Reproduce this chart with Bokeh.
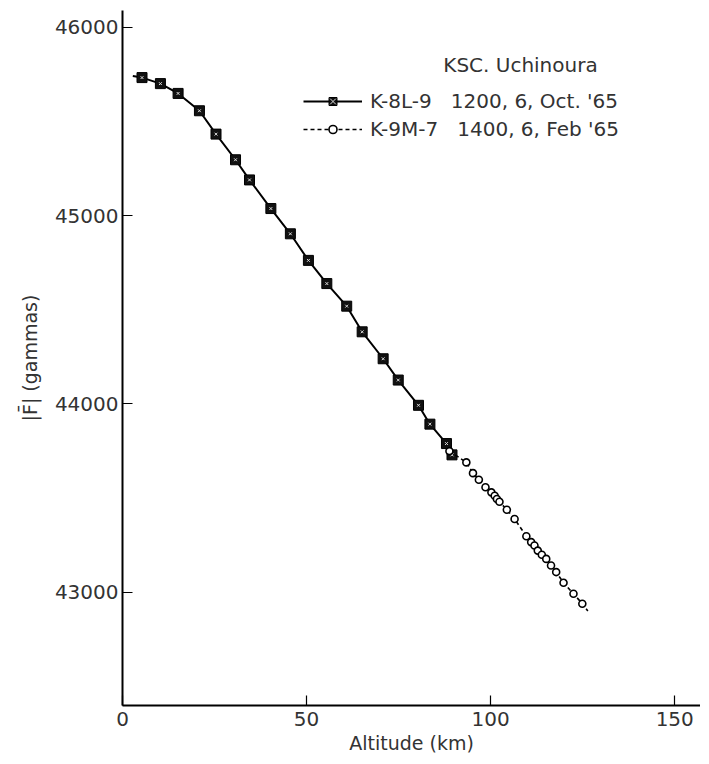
from bokeh.plotting import figure
from bokeh.models import (Range1d, FixedTicker, Legend, LegendItem, Label,
                          ColumnDataSource)
from bokeh.embed import file_html
from bokeh.resources import INLINE

# ---- data ----
alt_k8 = [2.8, 5.3, 10.3, 15.1, 20.9, 25.4, 30.7, 34.5, 40.3, 45.6, 50.5, 55.5,
          60.9, 65.1, 70.8, 74.9, 80.4, 83.5, 88.0, 89.5]
F_k8 = [45740, 45732, 45700, 45648, 45556, 45432, 45296, 45189, 45037, 44903,
        44762, 44639, 44519, 44383, 44240, 44127, 43993, 43893, 43790, 43730]

alt_k9 = [88.8, 93.4, 95.2, 96.8, 98.6, 100.2, 101.1, 101.7, 102.4, 104.4,
          106.5, 109.7, 111.0, 111.9, 112.8, 113.9, 115.1, 116.4, 117.8,
          119.8, 122.5, 124.9, 126.4]
F_k9 = [43750, 43690, 43633, 43598, 43558, 43531, 43513, 43496, 43481, 43439,
        43390, 43298, 43267, 43249, 43222, 43200, 43178, 43143, 43108, 43051,
        42993, 42940, 42902]
k9_marker = [True] * 22 + [False]

x_ticks = [0, 50, 100, 150]
y_ticks = [43000, 44000, 45000, 46000]

label_k8 = "K-8L-9   1200, 6, Oct. '65"
label_k9 = "K-9M-7   1400, 6, Feb '65"
legend_title = "KSC. Uchinoura"
x_title = "Altitude (km)"
y_title = "|F\u0304| (gammas)"

FONT = "DejaVu Sans"

p = figure(width=700, height=756, output_backend="svg", toolbar_location=None,
           x_range=Range1d(0, 157), y_range=Range1d(42400, 46088),
           min_border_left=122, min_border_right=0, min_border_top=10,
           min_border_bottom=49)
p.outline_line_color = None
p.xgrid.visible = False
p.ygrid.visible = False
p.background_fill_color = "white"

for ax, ticks in ((p.xaxis[0], x_ticks), (p.yaxis[0], y_ticks)):
    ax.ticker = FixedTicker(ticks=ticks)
    ax.minor_tick_line_color = None
    ax.major_tick_in = 10
    ax.major_tick_out = 0
    ax.axis_line_width = 2
    ax.major_tick_line_width = 1.2
    ax.axis_line_color = "black"
    ax.major_label_text_font = FONT
    ax.major_label_text_font_size = "20px"
    ax.major_label_text_color = "#333333"
    ax.axis_label_text_font = FONT
    ax.axis_label_text_font_size = "19px"
    ax.axis_label_text_font_style = "normal"
    ax.axis_label_text_color = "#333333"

p.xaxis.axis_label = x_title
p.yaxis.axis_label = y_title
p.xaxis.major_label_standoff = 6
p.yaxis.major_label_standoff = 4
p.xaxis.axis_label_standoff = 3
p.yaxis.axis_label_standoff = 11

# K-8L-9 : solid line with dark squares
l1 = p.line(alt_k8, F_k8, line_color="black", line_width=2)
s1 = p.scatter(alt_k8[1:], F_k8[1:], marker="square", size=10,
               fill_color="#111111", line_color="black", line_width=1)
x1 = p.scatter(alt_k8[1:], F_k8[1:], marker="x", size=4,
               line_color="#dddddd", line_width=1)

# K-9M-7 : dashed line with open circles
src9 = ColumnDataSource(dict(
    x=[a for a, m in zip(alt_k9, k9_marker) if m],
    y=[f for f, m in zip(F_k9, k9_marker) if m]))
l2 = p.line(alt_k9, F_k9, line_color="black", line_width=1.6, line_dash="4 3")
s2 = p.scatter("x", "y", source=src9, marker="circle", size=7,
               fill_color="white", line_color="black", line_width=1.6)

legend = Legend(items=[
    LegendItem(label=label_k8, renderers=[l1, s1, x1]),
    LegendItem(label=label_k9, renderers=[l2, s2]),
], location=(181, 564))
legend.padding = 0
legend.margin = 0
legend.spacing = 4
legend.glyph_width = 59
legend.glyph_height = 20
legend.label_height = 20
legend.label_standoff = 8
legend.border_line_color = None
legend.background_fill_alpha = 0
legend.label_text_font = FONT
legend.label_text_font_size = "20px"
legend.label_text_color = "#333333"
p.add_layout(legend, "center")

title = Label(x=108.1, y=45797, text=legend_title, text_align="center",
              text_baseline="middle", text_font=FONT, text_font_size="20px",
              text_color="#333333")
p.add_layout(title)

open("out.html", "w").write(file_html(p, INLINE))
